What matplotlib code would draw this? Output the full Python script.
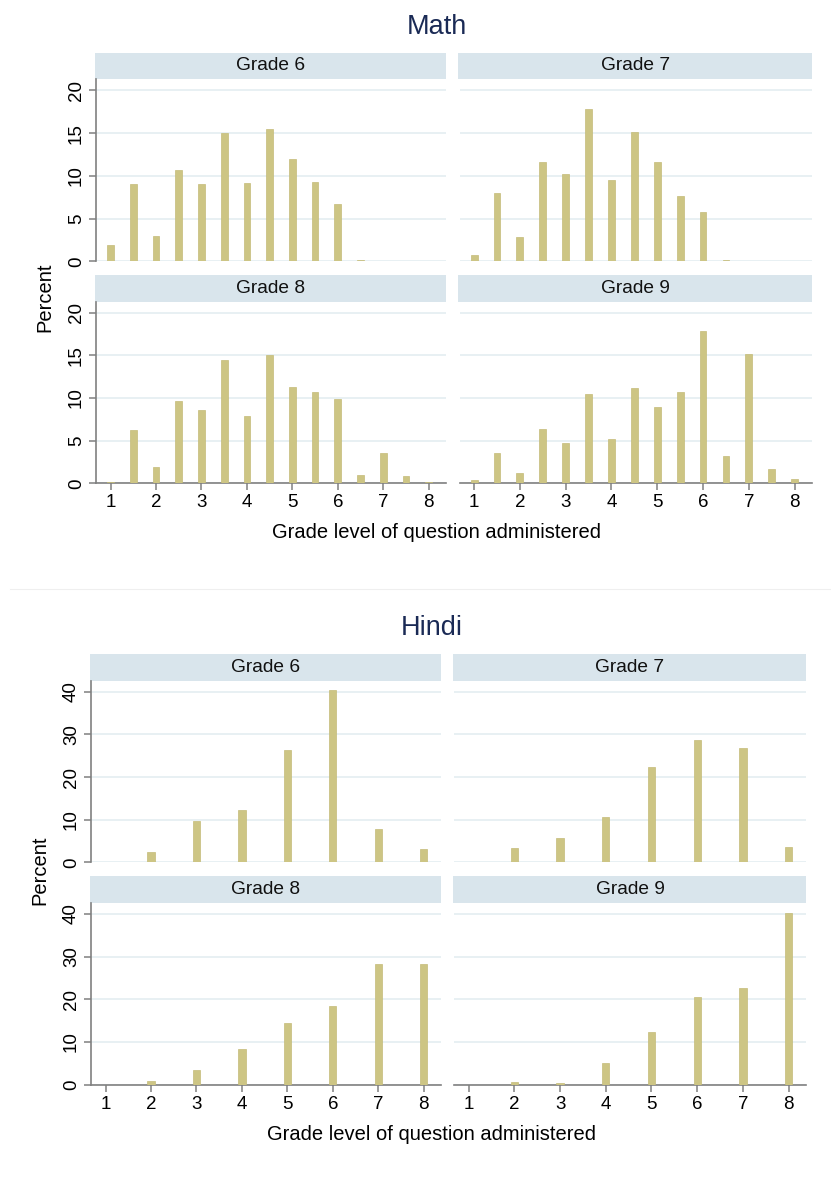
import matplotlib
matplotlib.use('Agg')
import matplotlib.pyplot as plt
from matplotlib.patches import Rectangle
from matplotlib.lines import Line2D

plt.rcParams['font.family'] = ['Liberation Sans', 'DejaVu Sans']

# Data: percent of questions administered, by grade level of question
math_levels = [1, 1.5, 2, 2.5, 3, 3.5, 4, 4.5, 5, 5.5, 6, 6.5, 7, 7.5, 8]
math_g6 = [1.9, 9.0, 3.0, 10.7, 9.0, 15.0, 9.2, 15.5, 12.0, 9.3, 6.7, 0.15, 0, 0, 0]
math_g7 = [0.7, 8.0, 2.85, 11.6, 10.2, 17.8, 9.5, 15.1, 11.6, 7.6, 5.8, 0.15, 0.08, 0, 0]
math_g8 = [0.15, 6.25, 1.9, 9.6, 8.55, 14.45, 7.85, 15.1, 11.25, 10.75, 9.9, 1.0, 3.6, 0.8, 0.15]
math_g9 = [0.35, 3.55, 1.2, 6.4, 4.75, 10.5, 5.25, 11.15, 8.95, 10.75, 17.9, 3.15, 15.2, 1.7, 0.45]

hindi_levels = [1, 2, 3, 4, 5, 6, 7, 8]
hindi_g6 = [0.15, 2.4, 9.7, 12.2, 26.3, 40.4, 7.8, 3.05]
hindi_g7 = [0, 3.45, 5.7, 10.7, 22.3, 28.75, 26.9, 3.7]
hindi_g8 = [0, 0.85, 3.35, 8.3, 14.45, 18.4, 28.2, 28.35]
hindi_g9 = [0, 0.6, 0.3, 5.15, 12.3, 20.5, 22.65, 40.1]

panel_labels = ['Grade 6', 'Grade 7', 'Grade 8', 'Grade 9']
x_ticks = [1, 2, 3, 4, 5, 6, 7, 8]
math_yticks = [0, 5, 10, 15, 20]
hindi_yticks = [0, 10, 20, 30, 40]

W, H = 831, 1184
BAR = '#cdc584'
STRIP = '#d9e5ec'
GRID = '#e6eff2'
AXIS = '#808080'
TITLE = '#1a2a55'

fig = plt.figure(figsize=(W / 100, H / 100), dpi=100)


def add_panel(l, t, r, b, x, y, label, ylim, yticks, left, bottom, width):
    ax = fig.add_axes([l / W, 1 - b / H, (r - l) / W, (b - t) / H])
    ax.bar(x, y, width=width, color=BAR, edgecolor='#c4bb78', linewidth=0.5, zorder=3)
    ax.set_xlim(0.68, 8.38)
    ax.set_ylim(0, ylim)
    ax.set_yticks(yticks)
    ax.set_xticks(x_ticks)
    ax.set_axisbelow(True)
    ax.yaxis.grid(True, color=GRID, lw=1.3)
    for s in ['top', 'right']:
        ax.spines[s].set_visible(False)
    ax.spines['left'].set_visible(left)
    ax.spines['bottom'].set_visible(bottom)
    ax.spines['left'].set_color(AXIS)
    ax.spines['bottom'].set_color(AXIS)
    ax.spines['left'].set_linewidth(1.2)
    ax.spines['bottom'].set_linewidth(1.2)
    ax.tick_params(axis='y', left=left, labelleft=left, length=5, width=1.1, color=AXIS,
                   labelsize=13.5, pad=3, labelrotation=90)
    ax.tick_params(axis='x', bottom=bottom, labelbottom=bottom, length=5, width=1.1,
                   color=AXIS, labelsize=13.5, pad=3)
    for lab in ax.get_yticklabels():
        lab.set_va('center')
    h = 26.7 / (b - t)
    ax.add_patch(Rectangle((-0.003, 1), 1.003, h, transform=ax.transAxes, clip_on=False,
                           facecolor=STRIP, edgecolor='none'))
    ax.text(0.5, 1 + h / 2, label, transform=ax.transAxes, ha='center', va='center',
            fontsize=13.8, color='#111111')
    return ax


# Math block
math_data = [math_g6, math_g7, math_g8, math_g9]
for i, vals in enumerate(math_data):
    col, row = i % 2, i // 2
    l, r = (96, 446) if col == 0 else (459.5, 812)
    t, b = (79.3, 261.3) if row == 0 else (301.7, 483.3)
    add_panel(l, t, r, b, math_levels, vals, panel_labels[i], 21.3, math_yticks,
              col == 0, row == 1, 0.15)

fig.text(437 / W, 1 - 27 / H, 'Math', ha='center', va='center', fontsize=19.5, color=TITLE)
fig.text(437 / W, 1 - 533 / H, 'Grade level of question administered', ha='center',
         va='center', fontsize=14.5)
fig.text(45 / W, 1 - 297 / H, 'Percent', ha='center', va='center', rotation=90, fontsize=14.5)

# separator between the two graphs
fig.add_artist(Line2D([10 / W, 1], [1 - 589 / H, 1 - 589 / H], color='#efefef', lw=0.8))

# Hindi block
hindi_data = [hindi_g6, hindi_g7, hindi_g8, hindi_g9]
for i, vals in enumerate(hindi_data):
    col, row = i % 2, i // 2
    l, r = (91, 441) if col == 0 else (454, 806)
    t, b = (680.7, 862.3) if row == 0 else (902.7, 1084.7)
    add_panel(l, t, r, b, hindi_levels, vals, panel_labels[i], 42.6, hindi_yticks,
              col == 0, row == 1, 0.16)

fig.text(432 / W, 1 - 628 / H, 'Hindi', ha='center', va='center', fontsize=19.5, color=TITLE)
fig.text(432 / W, 1 - 1134 / H, 'Grade level of question administered', ha='center',
         va='center', fontsize=14.5)
fig.text(40 / W, 1 - 870 / H, 'Percent', ha='center', va='center', rotation=90, fontsize=14.5)

plt.savefig('out.png', dpi=100)
